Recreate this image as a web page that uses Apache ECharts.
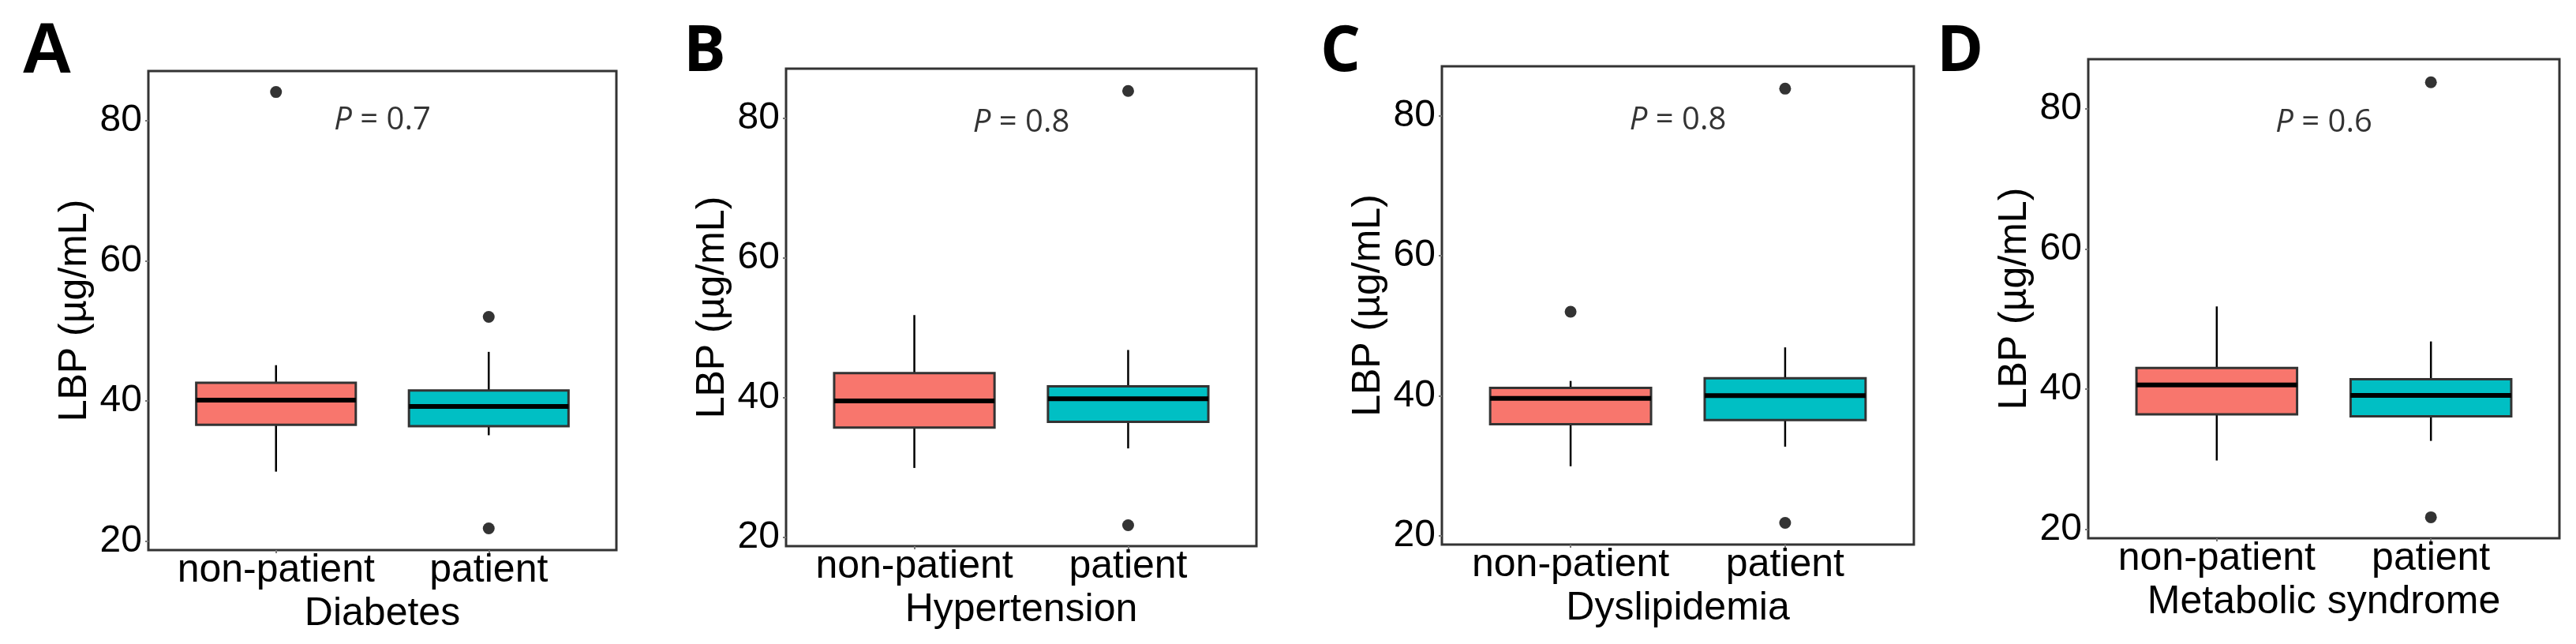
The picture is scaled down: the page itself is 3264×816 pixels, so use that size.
<!DOCTYPE html>
<html lang="en">
<head>
<meta charset="UTF-8">
<title>LBP boxplots</title>
<script src="https://cdn.jsdelivr.net/npm/echarts@6.0.0/dist/echarts.min.js"></script>
<style>html,body{margin:0;padding:0;background:#fff}</style>
</head>
<body>
<div id="main" style="width:3264px;height:816px;"></div>
<script>
// categories on every panel
var groups = ['non-patient', 'patient'];
var yTicks = [20, 40, 60, 80];

// panel letters, x axis titles and p values
var panelLetters = ['A', 'B', 'C', 'D'];
var panelNames = ['Diabetes', 'Hypertension', 'Dyslipidemia', 'Metabolic syndrome'];
var pValues = ['0.7', '0.8', '0.8', '0.6'];

// per group: lower whisker, Q1, median, Q3, upper whisker
var diabetesBox = [[29.9, 36.6, 40.1, 42.6, 45.1], [35.1, 36.4, 39.2, 41.5, 47.0]];
var hypertensionBox = [[29.9, 35.7, 39.5, 43.5, 51.8], [32.7, 36.5, 39.8, 41.6, 46.8]];
var dyslipidemiaBox = [[29.9, 35.9, 39.6, 41.1, 42.1], [32.7, 36.5, 40.0, 42.5, 46.9]];
var metabolicBox = [[29.8, 36.4, 40.6, 43.0, 51.8], [32.6, 36.1, 39.1, 41.4, 46.8]];

// outliers per group
var diabetesOut = [[84.1], [52.0, 21.8]];
var hypertensionOut = [[], [83.9, 21.7]];
var dyslipidemiaOut = [[52.0], [83.9, 21.8]];
var metabolicOut = [[], [83.8, 21.7]];

var boxes = [diabetesBox, hypertensionBox, dyslipidemiaBox, metabolicBox];
var outliers = [diabetesOut, hypertensionOut, dyslipidemiaOut, metabolicOut];

// layout (px) and styles
var fills = ['#F8766D', '#00BFC4'];
var frames = [          // left, top, width, height
    [188, 90, 593, 607],
    [996, 87, 596, 605],
    [1827, 84, 598, 606],
    [2646, 75, 597, 607]
];
var letterPos = [[27, 22], [866, 27], [1673, 27], [2454, 27]];
var pTextY = [80, 79.3, 79.4, 78];
var sans = 'Liberation Sans, Arial, sans-serif';

function renderBox(params, api) {
    var x = api.value(0);
    var half = api.size([0.375, 0])[0];
    var lo = api.coord([x, api.value(1)]);
    var q1 = api.coord([x, api.value(2)]);
    var md = api.coord([x, api.value(3)]);
    var q3 = api.coord([x, api.value(4)]);
    var hi = api.coord([x, api.value(5)]);
    return {
        type: 'group',
        children: [
            {type: 'line', shape: {x1: lo[0], y1: lo[1], x2: q1[0], y2: q1[1]}, style: {stroke: '#000', lineWidth: 2.5}},
            {type: 'line', shape: {x1: q3[0], y1: q3[1], x2: hi[0], y2: hi[1]}, style: {stroke: '#000', lineWidth: 2.5}},
            {type: 'rect', shape: {x: q3[0] - half, y: q3[1], width: half * 2, height: q1[1] - q3[1]},
                style: {fill: fills[x - 1], stroke: '#333', lineWidth: 3}},
            {type: 'line', shape: {x1: md[0] - half, y1: md[1], x2: md[0] + half, y2: md[1]}, style: {stroke: '#000', lineWidth: 6}}
        ]
    };
}

var myChart = echarts.init(document.getElementById('main'));
var option = {animation: false, backgroundColor: '#fff', title: [], grid: [], xAxis: [], yAxis: [], series: []};

panelLetters.forEach(function (letter, i) {
    var f = frames[i];
    option.title.push({
        text: letter, left: letterPos[i][0], top: letterPos[i][1], padding: 0,
        textStyle: {
            fontFamily: i === 0 ? sans : 'Open Sans',
            fontWeight: 'bold', fontSize: i === 0 ? 90 : 80, color: '#000'
        }
    });
    option.grid.push({
        left: f[0], top: f[1], width: f[2], height: f[3],
        show: true, borderColor: '#333', borderWidth: 3, backgroundColor: 'transparent'
    });
    option.xAxis.push({
        type: 'value', gridIndex: i, min: 0.4, max: 2.6,
        name: panelNames[i], nameLocation: 'middle', nameGap: 50,
        nameTextStyle: {fontFamily: sans, fontSize: 50, color: '#000'},
        axisLine: {show: false},
        splitLine: {show: false},
        axisTick: {show: true, customValues: [1, 2], length: 4, lineStyle: {color: '#777', width: 2}},
        axisLabel: {
            customValues: [1, 2], margin: 1,
            fontFamily: sans, fontSize: 50, color: '#000',
            formatter: function (v) { return groups[Math.round(v) - 1]; }
        }
    });
    option.yAxis.push({
        type: 'value', gridIndex: i, min: 18.7, max: 87.1,
        name: 'LBP (µg/mL)', nameLocation: 'middle', nameGap: 68,
        nameTextStyle: {fontFamily: sans, fontSize: 50, color: '#000'},
        axisLine: {show: false},
        splitLine: {show: false},
        axisTick: {show: true, customValues: yTicks, length: 4, lineStyle: {color: '#777', width: 2}},
        axisLabel: {customValues: yTicks, margin: 8, fontFamily: sans, fontSize: 48, color: '#000'}
    });

    option.series.push({
        type: 'custom', xAxisIndex: i, yAxisIndex: i, silent: true,
        renderItem: renderBox,
        encode: {x: 0, y: [1, 2, 3, 4, 5]},
        data: boxes[i].map(function (b, g) { return [g + 1].concat(b); })
    });

    var pts = [];
    outliers[i].forEach(function (list, g) {
        list.forEach(function (v) { pts.push([g + 1, v]); });
    });
    option.series.push({
        type: 'scatter', xAxisIndex: i, yAxisIndex: i, silent: true,
        symbolSize: 15, itemStyle: {color: '#000'}, data: pts, z: 3
    });

    option.series.push({
        type: 'scatter', xAxisIndex: i, yAxisIndex: i, silent: true,
        symbolSize: 0, data: [[1.5, pTextY[i]]],
        label: {
            show: true, position: 'inside',
            formatter: '{i|P} = ' + pValues[i],
            fontFamily: 'Open Sans', fontSize: 40, color: '#000',
            rich: {i: {fontFamily: 'Open Sans', fontSize: 40, fontStyle: 'italic', color: '#000'}}
        }
    });
});

myChart.setOption(option);
</script>
</body>
</html>
